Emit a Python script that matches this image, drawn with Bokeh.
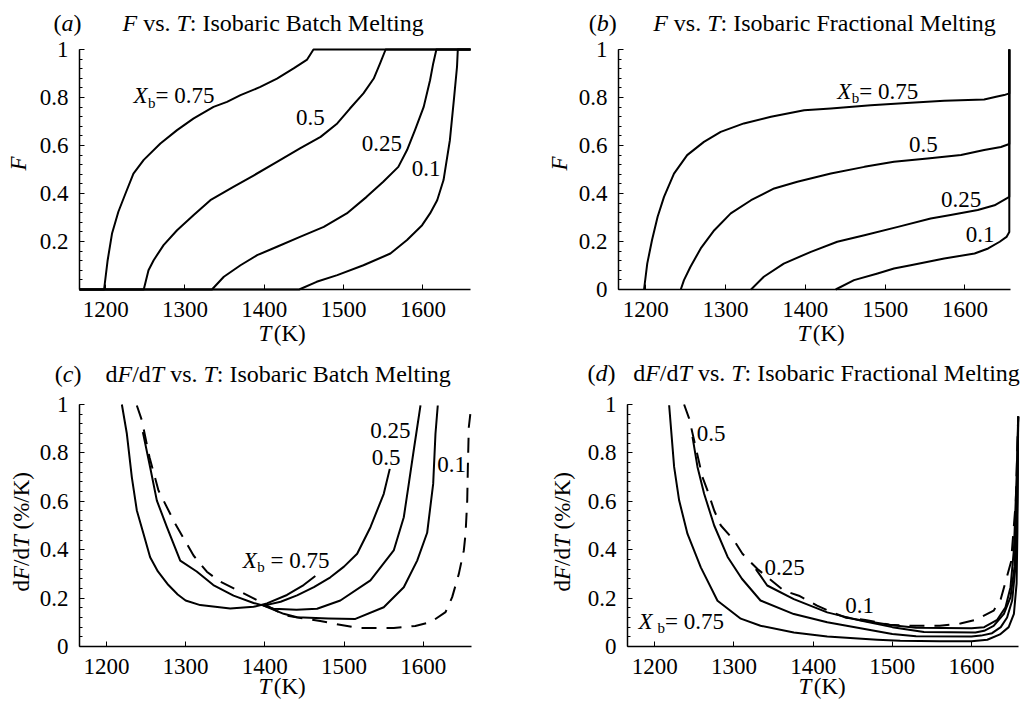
import math
from bokeh.plotting import figure
from bokeh.models import Range1d, Label, FixedTicker
from bokeh.layouts import column, row
from bokeh.embed import file_html
from bokeh.resources import INLINE

FONT = "Liberation Serif"

# ---------------- data ----------------
T_TICKS = [1200, 1300, 1400, 1500, 1600]
F_TICKS = [0.0, 0.2, 0.4, 0.6, 0.8, 1.0]
F_TICK_LABELS = ["0", "0.2", "0.4", "0.6", "0.8", "1"]
F_TICKS_A = [0.2, 0.4, 0.6, 0.8, 1.0]
F_TICK_LABELS_A = ["0.2", "0.4", "0.6", "0.8", "1"]
F_MINOR = [0.04 * i for i in range(26)]

# (a) F vs T, batch melting
a_T_075 = [1167, 1198, 1202.5, 1208, 1216, 1225, 1235, 1248, 1269, 1290, 1311, 1336, 1353, 1370, 1395, 1416, 1437, 1454, 1462, 1660]
a_F_075 = [0, 0, 0.122, 0.233, 0.324, 0.4, 0.483, 0.54, 0.608, 0.664, 0.713, 0.761, 0.782, 0.81, 0.844, 0.879, 0.921, 0.958, 1.0, 1.0]
a_T_05 = [1167, 1248, 1254, 1260.5, 1273, 1290, 1311, 1332, 1361, 1387, 1416, 1445, 1471, 1492, 1508, 1525, 1538, 1546, 1553, 1660]
a_F_05 = [0, 0, 0.08, 0.122, 0.185, 0.247, 0.31, 0.372, 0.428, 0.476, 0.532, 0.588, 0.636, 0.692, 0.754, 0.817, 0.879, 0.942, 1.0, 1.0]
a_T_025 = [1167, 1334, 1349, 1370, 1391, 1416, 1445, 1475, 1504, 1529, 1550, 1569, 1580, 1590, 1601, 1609, 1613, 1617, 1660]
a_F_025 = [0, 0, 0.053, 0.101, 0.143, 0.178, 0.219, 0.261, 0.317, 0.386, 0.449, 0.511, 0.581, 0.664, 0.761, 0.872, 0.942, 1.0, 1.0]
a_T_01 = [1167, 1444, 1466, 1492, 1525, 1559, 1580, 1599, 1609, 1618, 1626, 1630, 1634, 1639, 1643, 1644, 1660]
a_F_01 = [0, 0, 0.032, 0.06, 0.101, 0.15, 0.206, 0.268, 0.317, 0.372, 0.456, 0.539, 0.622, 0.789, 0.928, 1.0, 1.0]

# (b) F vs T, fractional melting
b_T_075 = [1198, 1202, 1208, 1215, 1223, 1235.5, 1252, 1273, 1294, 1323, 1357, 1398.5, 1432, 1482, 1532, 1574, 1624, 1639, 1649, 1655.5, 1655.5]
b_F_075 = [0, 0.108, 0.206, 0.303, 0.386, 0.483, 0.56, 0.615, 0.657, 0.692, 0.72, 0.747, 0.754, 0.768, 0.778, 0.786, 0.792, 0.803, 0.81, 0.817, 1.0]
b_T_05 = [1244, 1248, 1256, 1269, 1286, 1306.6, 1332, 1361, 1390, 1432, 1474, 1511, 1553, 1595, 1624, 1645, 1655.5, 1655.5]
b_F_05 = [0, 0.039, 0.094, 0.171, 0.247, 0.317, 0.372, 0.421, 0.449, 0.483, 0.511, 0.532, 0.546, 0.56, 0.581, 0.594, 0.606, 1.0]
b_T_025 = [1332, 1348, 1373, 1407, 1440, 1474, 1516, 1557, 1582, 1616, 1637, 1655.5, 1655.5]
b_F_025 = [0, 0.053, 0.108, 0.157, 0.199, 0.226, 0.261, 0.296, 0.31, 0.331, 0.351, 0.386, 1.0]
b_T_01 = [1438, 1461, 1490.5, 1511, 1532, 1574, 1612, 1629, 1643.5, 1652, 1655.5, 1655.5]
b_F_01 = [0, 0.039, 0.067, 0.0875, 0.101, 0.129, 0.15, 0.171, 0.199, 0.219, 0.24, 1.0]

# (c) dF/dT vs T, batch melting (%/K)
c_T_075 = [1219.5, 1225.8, 1232.1, 1238.4, 1246.8, 1255.2, 1265, 1278, 1290, 1300, 1318.4, 1356.3, 1385.8, 1402.7, 1428, 1449, 1463.8]
c_D_075 = [1.0, 0.879, 0.699, 0.562, 0.466, 0.369, 0.31, 0.255, 0.215, 0.19, 0.171, 0.157, 0.164, 0.178, 0.213, 0.254, 0.291]
c_T_05 = [1246, 1255.2, 1263.7, 1276.4, 1293.2, 1314, 1335, 1360.5, 1385.8, 1398.5, 1420, 1440.7, 1462, 1482.8, 1500, 1516.6, 1533.4, 1550.2, 1557.8]
c_D_05 = [0.886, 0.741, 0.603, 0.493, 0.355, 0.31, 0.254, 0.21, 0.18, 0.169, 0.185, 0.211, 0.245, 0.286, 0.33, 0.383, 0.493, 0.631, 0.734]
c_T_025 = [1398.5, 1411, 1440, 1466, 1495.4, 1533.4, 1562.8, 1575.5, 1581.8, 1588, 1596.6]
c_D_025 = [0.169, 0.156, 0.152, 0.156, 0.19, 0.273, 0.397, 0.534, 0.672, 0.81, 0.996]
c_T_01 = [1398.5, 1423.8, 1440.7, 1480, 1514.4, 1550.2, 1575.5, 1592.4, 1605, 1612.6, 1615.5, 1618.4]
c_D_01 = [0.169, 0.135, 0.121, 0.116, 0.114, 0.162, 0.245, 0.355, 0.47, 0.672, 0.879, 0.996]
c_T_dash = [1238.4, 1244.8, 1254.4, 1265.7, 1286.9, 1310, 1326.8, 1343.7, 1369, 1385.8, 1405, 1426, 1470, 1516.6, 1562.8, 1590, 1609.2, 1628.2, 1636.6, 1645, 1651.3, 1653.5, 1655.6, 1656.4, 1657.6, 1659.5]
c_D_dash = [0.996, 0.934, 0.782, 0.645, 0.507, 0.376, 0.309, 0.268, 0.227, 0.199, 0.165, 0.128, 0.105, 0.077, 0.076, 0.085, 0.1, 0.142, 0.204, 0.3, 0.397, 0.466, 0.603, 0.741, 0.906, 0.96]

# (d) dF/dT vs T, fractional melting (%/K)
d_T_075 = [1218.1, 1224.4, 1230.7, 1241.3, 1258.1, 1279.2, 1308.6, 1333.5, 1375.6, 1417.8, 1481, 1510, 1560, 1600, 1620, 1636, 1647, 1653.6, 1657, 1658, 1659]
d_D_075 = [0.997, 0.742, 0.604, 0.465, 0.327, 0.189, 0.115, 0.086, 0.058, 0.041, 0.028, 0.024, 0.022, 0.022, 0.028, 0.05, 0.08, 0.135, 0.26, 0.47, 0.95]
d_T_05 = [1247.6, 1253.9, 1262.3, 1275, 1292, 1310, 1333.5, 1375.6, 1417.8, 1459.8, 1500, 1530, 1600, 1612, 1626, 1637, 1645, 1651.4, 1655.6, 1658, 1659]
d_D_05 = [0.866, 0.742, 0.631, 0.5, 0.37, 0.28, 0.19, 0.134, 0.1, 0.075, 0.052, 0.042, 0.041, 0.045, 0.055, 0.08, 0.12, 0.19, 0.33, 0.6, 0.95]
d_T_025 = [1327.6, 1342, 1375.6, 1417.8, 1459.8, 1500, 1540, 1605, 1616, 1628, 1641, 1649.3, 1654.4, 1657.5, 1659]
d_D_025 = [0.32, 0.252, 0.196, 0.141, 0.107, 0.08, 0.06, 0.058, 0.065, 0.085, 0.135, 0.204, 0.33, 0.6, 0.95]
d_T_01 = [1441, 1466, 1500, 1530, 1600, 1616, 1632.5, 1643, 1649.3, 1653.6, 1657, 1659]
d_D_01 = [0.12, 0.105, 0.088, 0.077, 0.075, 0.08, 0.11, 0.162, 0.245, 0.4, 0.7, 0.95]
d_T_dash = [1237, 1243.4, 1260.2, 1266.5, 1275, 1283.4, 1300.2, 1310.7, 1329.7, 1363.4, 1382, 1405, 1424, 1441, 1466, 1496, 1520, 1560, 1586, 1605, 1628, 1637, 1650, 1656, 1659]
d_D_dash = [1.0, 0.942, 0.7, 0.645, 0.562, 0.5, 0.438, 0.383, 0.32, 0.23, 0.21, 0.169, 0.141, 0.12, 0.11, 0.09, 0.086, 0.086, 0.095, 0.11, 0.148, 0.196, 0.35, 0.6, 0.95]

# curve labels: (T at left edge of text, value at text centre)
a_label_pos = {"0.75": (1235, 0.806), "0.5": (1440, 0.7125), "0.25": (1523, 0.606), "0.1": (1586, 0.504)}
b_label_pos = {"0.75": (1440, 0.824), "0.5": (1530, 0.601), "0.25": (1570, 0.372), "0.1": (1601, 0.226)}
c_label_pos = {"0.75": (1372, 0.354), "0.5": (1535, 0.779), "0.25": (1533, 0.89), "0.1": (1617.6, 0.751)}
d_label_pos = {"0.75": (1179.4, 0.102), "0.5": (1253, 0.876), "0.25": (1338.5, 0.323), "0.1": (1440.4, 0.169)}

# ---------------- text helpers (Times / Liberation Serif metrics) ----------------
W_REG = {' ': 250, '(': 333, ')': 333, 'a': 444, 'b': 500, 'c': 444, 'd': 500, 'v': 500, 's': 389,
         '.': 250, ':': 278, 'I': 333, 'o': 500, 'r': 333, 'i': 278, 'B': 667, 't': 278, 'h': 500,
         'M': 889, 'e': 444, 'l': 278, 'n': 500, 'g': 500, 'F': 556, 'f': 333, 'u': 500, '/': 278,
         '%': 833, 'K': 722, '=': 564, 'T': 611, 'X': 722}
for _ch in "0123456789":
    W_REG[_ch] = 500
W_IT = {'a': 500, 'b': 500, 'c': 444, 'd': 500, 'F': 611, 'T': 556, 'X': 611}
BASE_FIX = 0.37  # empirical baseline correction, in em


def text_width(s, italic, size):
    tab = W_IT if italic else W_REG
    return sum(tab.get(ch, W_REG.get(ch, 500)) for ch in s) * size / 1000.0


def rich(p, x, y, segs, x_off=0.0, y_off=0.0, vertical=False):
    cur = 0.0
    for seg in segs:
        if isinstance(seg, (int, float)):
            cur += seg
            continue
        text, italic, size, dy = seg
        lead = len(text) - len(text.lstrip(" "))
        trail = len(text) - len(text.rstrip(" "))
        core = text.strip(" ")
        cur += lead * 250 * size / 1000.0
        fix = BASE_FIX * size
        common = dict(x=x, y=y, text=core, text_font=FONT, text_font_size=f"{size}px",
                      text_font_style="italic" if italic else "normal", text_color="black",
                      text_align="left", text_baseline="alphabetic")
        if vertical:
            lab = Label(x_offset=x_off - dy - fix, y_offset=y_off + cur, angle=math.pi / 2, **common)
        else:
            lab = Label(x_offset=x_off + cur, y_offset=y_off + dy + fix, **common)
        p.add_layout(lab)
        cur += text_width(core, italic, size) + trail * 250 * size / 1000.0


def make_panel(cw, ch, fl, fr, ft, fb, xr, yticks, ylabels):
    """cw, ch: canvas size; fl, fr, ft, fb: pixel edges of the data box inside the canvas."""
    x0, x1 = xr
    sx = (fr - fl) / (x1 - x0)
    sy = (fb - ft) / 1.0
    xrange_ = Range1d(x0 - fl / sx, x0 + (cw - fl) / sx)
    yrange_ = Range1d(0 - (ch - fb) / sy, 1 + ft / sy)
    p = figure(width=cw, height=ch, x_range=xrange_, y_range=yrange_,
               output_backend="svg", toolbar_location=None, tools="",
               min_border=0, min_border_left=0, min_border_right=0, min_border_top=0, min_border_bottom=0)
    p.outline_line_color = None
    p.xgrid.visible = False
    p.ygrid.visible = False
    p.background_fill_color = "white"
    p.border_fill_color = "white"
    p.xaxis.fixed_location = 0
    p.xaxis.bounds = (x0, x1)
    p.yaxis.fixed_location = x0
    p.yaxis.bounds = (0, 1)
    for ax in (p.xaxis[0], p.yaxis[0]):
        ax.axis_line_width = 1.5
        ax.axis_line_color = "black"
        ax.major_tick_line_color = "black"
        ax.minor_tick_line_color = "black"
        ax.major_tick_in = 5
        ax.major_tick_out = 0
        ax.minor_tick_in = 3
        ax.minor_tick_out = 0
        ax.major_label_text_font = FONT
        ax.major_label_text_font_size = "23px"
        ax.major_label_text_color = "black"
    p.xaxis.ticker = FixedTicker(ticks=T_TICKS, minor_ticks=[])
    p.yaxis.ticker = FixedTicker(ticks=yticks, minor_ticks=F_MINOR)
    p.yaxis.major_label_overrides = dict(zip(yticks, ylabels))
    p.xaxis.major_label_standoff = 12
    p.yaxis.major_label_standoff = 11
    return p


def xb_label(p, pos, style):
    x, y = pos
    if style == "a":
        segs = [("X", True, 23, 0), 0.5, ("b", False, 15, -4), ("= 0.75", False, 23, 0)]
    elif style == "c":
        segs = [("X", True, 23, 0), 0.5, ("b", False, 15, -4), (" = 0.75", False, 23, 0)]
    else:
        segs = [("X", True, 23, 0), 5, ("b", False, 15, -4), ("= 0.75", False, 23, 0)]
    rich(p, x, y, segs, y_off=-8)


def num_labels(p, posd):
    for key in ("0.5", "0.25", "0.1"):
        x, y = posd[key]
        rich(p, x, y, [(key, False, 23, 0)], y_off=-8)


LW = 2
DASH = "15 10"

# ---------------- panel (a) ----------------
xa = (1167, 1660)
pa = make_panel(511, 351, 79, 470, 49, 289, xa, F_TICKS_A, F_TICK_LABELS_A)
for T, F in ((a_T_075, a_F_075), (a_T_05, a_F_05), (a_T_025, a_F_025), (a_T_01, a_F_01)):
    pa.line(T, F, line_color="black", line_width=LW, line_join="round")
xb_label(pa, a_label_pos["0.75"], "a")
num_labels(pa, a_label_pos)
rich(pa, xa[0], 1, [("(", False, 24, 0), ("a", True, 24, 0), (")", False, 24, 0)], x_off=-26, y_off=17.3)
rich(pa, xa[0], 1, [("F", True, 24, 0), (" vs. ", False, 24, 0), ("T", True, 24, 0),
                    (": Isobaric Batch Melting", False, 24, 0)], x_off=43, y_off=17.3)
rich(pa, xa[0], 0, [("T", True, 23, 0), 2.5, ("(K)", False, 23, 0)], x_off=179, y_off=-53)
rich(pa, xa[0], 0, [("F", True, 23, 0)], x_off=-52.3, y_off=119, vertical=True)

# ---------------- panel (b) ----------------
xbr = (1166, 1657)
pb = make_panel(512, 351, 107, 499, 49, 289, xbr, F_TICKS, F_TICK_LABELS)
for T, F in ((b_T_075, b_F_075), (b_T_05, b_F_05), (b_T_025, b_F_025), (b_T_01, b_F_01)):
    pb.line(T, F, line_color="black", line_width=LW, line_join="round")
xb_label(pb, b_label_pos["0.75"], "a")
num_labels(pb, b_label_pos)
rich(pb, xbr[0], 1, [("(", False, 24, 0), ("b", True, 24, 0), (")", False, 24, 0)], x_off=-29.7, y_off=17.3)
rich(pb, xbr[0], 1, [("F", True, 24, 0), (" vs. ", False, 24, 0), ("T", True, 24, 0),
                     (": Isobaric Fractional Melting", False, 24, 0)], x_off=34.7, y_off=17.3)
rich(pb, xbr[0], 0, [("T", True, 23, 0), 2.5, ("(K)", False, 23, 0)], x_off=179, y_off=-53)
rich(pb, xbr[0], 0, [("F", True, 23, 0)], x_off=-50.3, y_off=119, vertical=True)

# ---------------- panel (c) ----------------
xc = (1166, 1661)
pc = make_panel(511, 351, 79, 471, 53, 295, xc, F_TICKS, F_TICK_LABELS)
for T, D in ((c_T_075, c_D_075), (c_T_05, c_D_05), (c_T_025, c_D_025), (c_T_01, c_D_01)):
    pc.line(T, D, line_color="black", line_width=LW, line_join="round")
pc.line(c_T_dash, c_D_dash, line_color="black", line_width=LW, line_dash=DASH)
xb_label(pc, c_label_pos["0.75"], "c")
num_labels(pc, c_label_pos)
rich(pc, xc[0], 1, [("(", False, 24, 0), ("c", True, 24, 0), (")", False, 24, 0)], x_off=-24.7, y_off=21.3)
rich(pc, xc[0], 1, [("d", False, 24, 0), ("F", True, 24, 0), ("/d", False, 24, 0), ("T", True, 24, 0),
                    (" vs. ", False, 24, 0), ("T", True, 24, 0),
                    (": Isobaric Batch Melting", False, 24, 0)], x_off=26, y_off=21.3)
rich(pc, xc[0], 0, [("T", True, 23, 0), 2.5, ("(K)", False, 23, 0)], x_off=179, y_off=-49)
rich(pc, xc[0], 0, [("d", False, 23, 0), ("F", True, 23, 0), ("/d", False, 23, 0), ("T", True, 23, 0),
                    (" (%/K)", False, 23, 0)], x_off=-49, y_off=55, vertical=True)

# ---------------- panel (d) ----------------
xd = (1165.5, 1659.4)
pd = make_panel(512, 351, 116, 507, 53, 295, xd, F_TICKS, F_TICK_LABELS)
for T, D in ((d_T_075, d_D_075), (d_T_05, d_D_05), (d_T_025, d_D_025), (d_T_01, d_D_01)):
    pd.line(T, D, line_color="black", line_width=LW, line_join="round")
pd.line(d_T_dash, d_D_dash, line_color="black", line_width=LW, line_dash=DASH)
xb_label(pd, d_label_pos["0.75"], "d")
num_labels(pd, d_label_pos)
rich(pd, xd[0], 1, [("(", False, 24, 0), ("d", True, 24, 0), (")", False, 24, 0)], x_off=-40, y_off=23)
rich(pd, xd[0], 1, [("d", False, 24, 0), ("F", True, 24, 0), ("/d", False, 24, 0), ("T", True, 24, 0),
                    (" vs. ", False, 24, 0), ("T", True, 24, 0),
                    (": Isobaric Fractional Melting", False, 24, 0)], x_off=5.7, y_off=23)
rich(pd, xd[0], 0, [("T", True, 23, 0), 2.5, ("(K)", False, 23, 0)], x_off=171, y_off=-49)
rich(pd, xd[0], 0, [("d", False, 23, 0), ("F", True, 23, 0), ("/d", False, 23, 0), ("T", True, 23, 0),
                    (" (%/K)", False, 23, 0)], x_off=-56, y_off=55, vertical=True)

layout = column(row(pa, pb), row(pc, pd))
open("out.html", "w").write(file_html(layout, INLINE))
